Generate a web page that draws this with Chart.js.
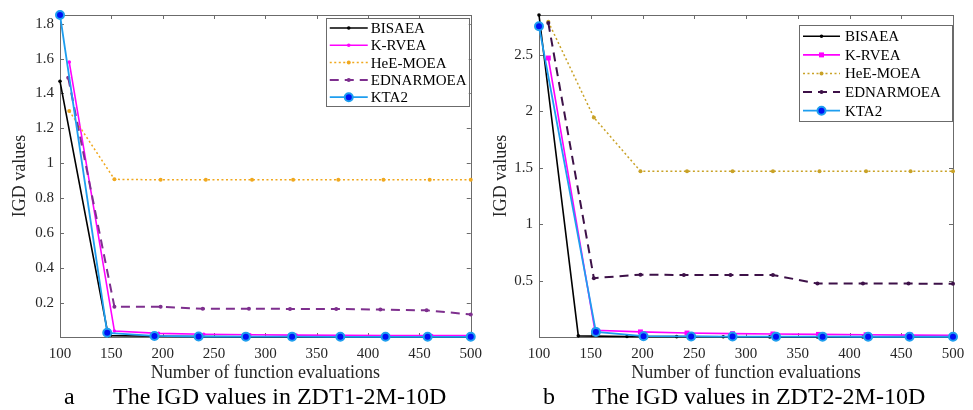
<!DOCTYPE html>
<html>
<head>
<meta charset="utf-8">
<script src="https://cdn.jsdelivr.net/npm/chart.js@4.4.0/dist/chart.umd.min.js"></script>
<style>
  body { margin: 0; background: #fff; width: 973px; height: 410px; position: relative; overflow: hidden; font-family: "Liberation Serif", "Times New Roman", serif; }
  canvas { position: absolute; top: 0; }
  #chartA { left: 0; }
  #chartB { left: 490px; }
  .cap { position: absolute; top: 384px; font-size: 24px; line-height: 24px; color: #000; white-space: nowrap; }
</style>
</head>
<body>
<canvas id="chartA" width="490" height="390"></canvas>
<canvas id="chartB" width="483" height="390"></canvas>
<div class="cap" style="left:64px">a</div>
<div class="cap" style="left:113px">The IGD values in ZDT1-2M-10D</div>
<div class="cap" style="left:543px">b</div>
<div class="cap" style="left:592px">The IGD values in ZDT2-2M-10D</div>
<script>
// ---- données ----
const algoNames = ['BISAEA', 'K-RVEA', 'HeE-MOEA', 'EDNARMOEA', 'KTA2'];
const xTicks = [100, 150, 200, 250, 300, 350, 400, 450, 500];

// (a) ZDT1-2M-10D
const yTicksA = [0.2, 0.4, 0.6, 0.8, 1, 1.2, 1.4, 1.6, 1.8];
const bisaeaXA = [100, 147, 193, 238, 283, 328, 374, 419, 461, 500];
const bisaeaYA = [1.47, 0.012, 0.008, 0.006, 0.005, 0.005, 0.005, 0.004, 0.004, 0.004];
const krveaXA  = [109, 153, 196, 240, 285, 330, 375, 420, 462, 500];
const krveaYA  = [1.58, 0.038, 0.025, 0.02, 0.017, 0.015, 0.014, 0.013, 0.012, 0.012];
const heeXA    = [109, 153, 198, 242, 287, 327, 371, 415, 460, 500];
const heeYA    = [1.30, 0.908, 0.905, 0.905, 0.905, 0.905, 0.905, 0.905, 0.905, 0.905];
const ednXA    = [108, 153, 198, 239, 284, 324, 369, 412, 457, 500];
const ednYA    = [1.49, 0.178, 0.177, 0.166, 0.166, 0.165, 0.165, 0.161, 0.157, 0.133];
const ktaXA    = [100, 146, 192, 235, 281, 326, 373, 417, 458, 500];
const ktaYA    = [1.85, 0.028, 0.01, 0.007, 0.006, 0.006, 0.005, 0.005, 0.005, 0.005];

// (b) ZDT2-2M-10D
const yTicksB = [0.5, 1, 1.5, 2, 2.5];
const bisaeaXB = [100, 138, 185, 233, 278, 323, 369, 413, 457, 500];
const bisaeaYB = [2.85, 0.015, 0.01, 0.008, 0.007, 0.006, 0.006, 0.005, 0.005, 0.005];
const krveaXB  = [109, 154, 198, 243, 287, 326, 370, 416, 459, 500];
const krveaYB  = [2.47, 0.065, 0.05, 0.04, 0.035, 0.032, 0.028, 0.025, 0.022, 0.02];
const heeXB    = [109, 153, 198, 243, 287, 326, 371, 416, 459, 500];
const heeYB    = [2.79, 1.945, 1.47, 1.47, 1.47, 1.47, 1.47, 1.47, 1.47, 1.47];
const ednXB    = [109, 153, 198, 240, 285, 326, 369, 413, 457, 500];
const ednYB    = [2.78, 0.525, 0.556, 0.553, 0.553, 0.553, 0.477, 0.477, 0.477, 0.475];
const ktaXB    = [100, 155, 201, 247, 287, 329, 374, 418, 458, 500];
const ktaYB    = [2.75, 0.05, 0.012, 0.01, 0.009, 0.008, 0.008, 0.007, 0.007, 0.007];

const axisColor = '#6b6b6b';
const serif = '"Liberation Serif", "Times New Roman", serif';

function pts(xs, ys) {
    return xs.map((x, i) => ({ x: x, y: ys[i] }));
}

// Styles façon MATLAB
function makeSets(p) {
    const base = { fill: false, tension: 0, clip: false, pointHoverRadius: 0 };
    return [
        Object.assign({}, base, { label: algoNames[0], data: pts(p.bx, p.by), order: 5,
            borderColor: '#000', borderWidth: 1.6, pointRadius: 1.8, pointBackgroundColor: '#000', pointBorderWidth: 0 }),
        Object.assign({}, base, { label: algoNames[1], data: pts(p.kx, p.ky), order: 4,
            borderColor: '#ff00ff', borderWidth: 1.6, pointRadius: p.krR, pointStyle: p.krStyle,
            pointBackgroundColor: '#ff00ff', pointBorderColor: '#ff00ff', pointBorderWidth: 0 }),
        Object.assign({}, base, { label: algoNames[2], data: pts(p.hx, p.hy), order: 3,
            borderColor: p.heeColor, borderWidth: 1.5, borderDash: [2, 2.5], pointRadius: 2,
            pointBackgroundColor: p.heeColor, pointBorderWidth: 0 }),
        Object.assign({}, base, { label: algoNames[3], data: pts(p.ex, p.ey), order: 2,
            borderColor: p.ednColor, borderWidth: 2, borderDash: [9, 6], pointRadius: 2,
            pointBackgroundColor: p.ednColor, pointBorderWidth: 0 }),
        Object.assign({}, base, { label: algoNames[4], data: pts(p.tx, p.ty), order: 1,
            borderColor: '#1e9eef', borderWidth: 1.8, pointRadius: 4, pointBorderWidth: 2,
            pointBackgroundColor: '#0010f5', pointBorderColor: '#1e9eef' })
    ];
}

// Cadre, graduations intérieures et légende dans la zone du graphe
const matlabAxes = {
    id: 'matlabAxes',
    beforeDatasetsDraw(chart) {
        const ctx = chart.ctx, a = chart.chartArea;
        const xs = chart.scales.x, ys = chart.scales.y;
        ctx.save();
        ctx.strokeStyle = axisColor;
        ctx.lineWidth = 1;
        ctx.strokeRect(Math.round(a.left) + 0.5, Math.round(a.top) + 0.5,
            Math.round(a.right - a.left), Math.round(a.bottom - a.top));
        ctx.beginPath();
        xs.ticks.forEach(t => {
            const px = Math.round(xs.getPixelForValue(t.value)) + 0.5;
            ctx.moveTo(px, a.bottom); ctx.lineTo(px, a.bottom - 4);
            ctx.moveTo(px, a.top); ctx.lineTo(px, a.top + 4);
        });
        ys.ticks.forEach(t => {
            const py = Math.round(ys.getPixelForValue(t.value)) + 0.5;
            ctx.moveTo(a.left, py); ctx.lineTo(a.left + 4, py);
            ctx.moveTo(a.right, py); ctx.lineTo(a.right - 4, py);
        });
        ctx.stroke();
        ctx.restore();
    },
    afterDatasetsDraw(chart, args, o) {
        const ctx = chart.ctx, a = chart.chartArea;
        const bx = a.right - o.right - o.width, by = a.top + o.top;
        ctx.save();
        ctx.fillStyle = '#fff';
        ctx.fillRect(bx, by, o.width, o.height);
        ctx.strokeStyle = axisColor;
        ctx.lineWidth = 1;
        ctx.strokeRect(Math.round(bx) + 0.5, Math.round(by) + 0.5, o.width, o.height);
        ctx.font = '15px ' + serif;
        ctx.textBaseline = 'middle';
        chart.data.datasets.forEach((ds, i) => {
            const y = by + o.first + i * o.rowH;
            const x0 = bx + 4, x1 = bx + 4 + o.lineLen;
            ctx.strokeStyle = ds.borderColor;
            ctx.lineWidth = ds.borderWidth;
            ctx.setLineDash(ds.borderDash || []);
            ctx.beginPath();
            ctx.moveTo(x0, y); ctx.lineTo(x1, y);
            ctx.stroke();
            ctx.setLineDash([]);
            ctx.fillStyle = ds.pointBackgroundColor;
            ctx.strokeStyle = ds.pointBorderColor || ds.pointBackgroundColor;
            ctx.lineWidth = ds.pointBorderWidth;
            Chart.helpers.drawPoint(ctx, { pointStyle: ds.pointStyle || 'circle', rotation: 0,
                radius: ds.pointRadius, borderWidth: ds.pointBorderWidth }, (x0 + x1) / 2, y);
            ctx.fillStyle = '#000';
            ctx.fillText(ds.label, x1 + o.textGap, y + 1);
        });
        ctx.restore();
    }
};

function makeChart(id, p) {
    return new Chart(document.getElementById(id), {
        type: 'line',
        data: { datasets: makeSets(p) },
        plugins: [matlabAxes],
        options: {
            responsive: false,
            animation: false,
            events: [],
            layout: { padding: { top: 12, right: p.padRight, left: 0, bottom: 0 } },
            plugins: {
                legend: { display: false },
                tooltip: { enabled: false },
                matlabAxes: p.legend
            },
            scales: {
                x: {
                    type: 'linear', min: 100, max: 500,
                    afterBuildTicks: s => { s.ticks = xTicks.map(v => ({ value: v })); },
                    afterFit: s => { s.height = 53; },
                    grid: { display: false, drawTicks: false },
                    border: { display: false },
                    ticks: { color: '#262626', padding: 8, maxRotation: 0, font: { family: serif, size: 15 } },
                    title: { display: true, text: 'Number of function evaluations', color: '#262626',
                        padding: { top: 0, bottom: 6 }, font: { family: serif, size: 18 } }
                },
                y: {
                    min: p.yMin, max: p.yMax,
                    afterBuildTicks: s => { s.ticks = p.yTicks.map(v => ({ value: v })); },
                    afterFit: s => { s.width = p.yWidth; },
                    grid: { display: false, drawTicks: false },
                    border: { display: false },
                    ticks: { color: '#262626', padding: 6, font: { family: serif, size: 15 },
                        callback: v => String(Math.round(v * 10) / 10) },
                    title: { display: true, text: 'IGD values', color: '#262626',
                        padding: { top: p.yTitlePad, bottom: 0 }, font: { family: serif, size: 18 } }
                }
            }
        }
    });
}

makeChart('chartA', {
    bx: bisaeaXA, by: bisaeaYA, kx: krveaXA, ky: krveaYA, hx: heeXA, hy: heeYA,
    ex: ednXA, ey: ednYA, tx: ktaXA, ty: ktaYA,
    yTicks: yTicksA, yMin: 0.004, yMax: 1.85,
    krR: 1.8, krStyle: 'circle', heeColor: '#f0a81e', ednColor: '#7e2f8e',
    padRight: 15, yWidth: 60, yTitlePad: 9,
    legend: { right: 2, top: 3, width: 143, height: 88, first: 10, rowH: 17.3, lineLen: 38, textGap: 3 }
});

makeChart('chartB', {
    bx: bisaeaXB, by: bisaeaYB, kx: krveaXB, ky: krveaYB, hx: heeXB, hy: heeYB,
    ex: ednXB, ey: ednYB, tx: ktaXB, ty: ktaYB,
    yTicks: yTicksB, yMin: 0.005, yMax: 2.85,
    krR: 3.5, krStyle: 'rect', heeColor: '#c9a227', ednColor: '#3d1148',
    padRight: 20, yWidth: 49, yTitlePad: 0,
    legend: { right: 1, top: 10, width: 153, height: 96, first: 11.3, rowH: 18.6, lineLen: 37, textGap: 5 }
});
</script>
</body>
</html>
